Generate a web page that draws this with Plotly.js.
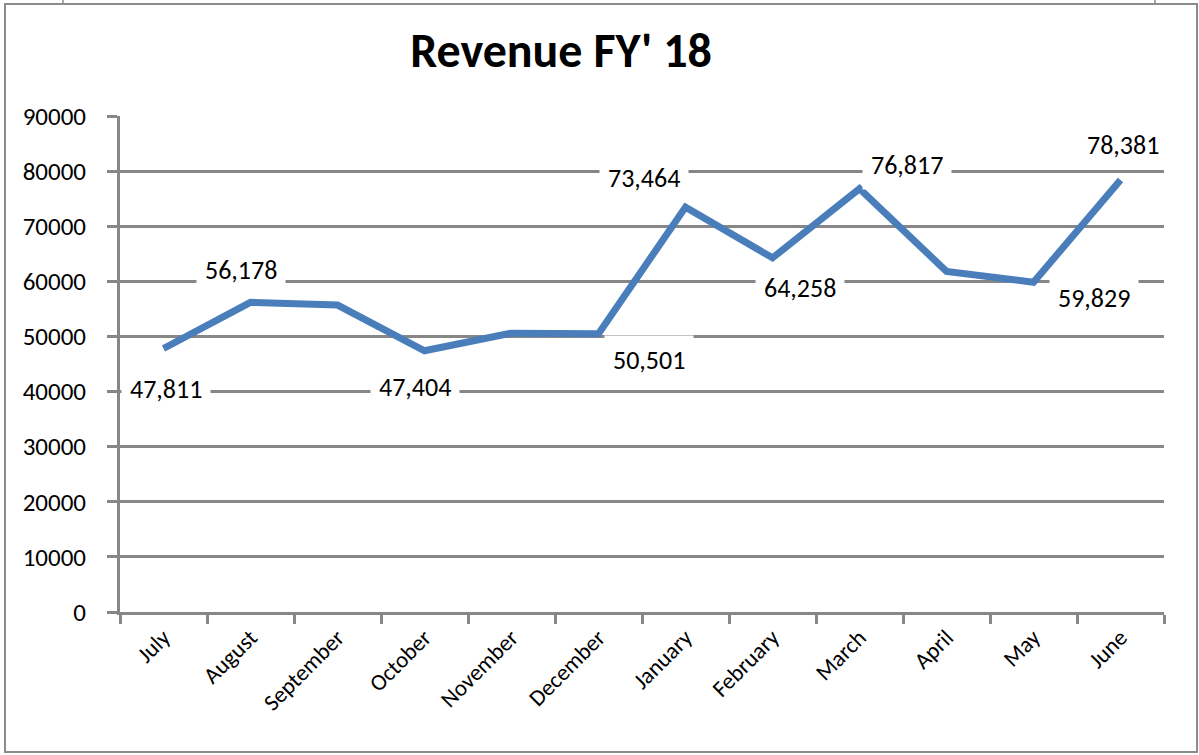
<!DOCTYPE html>
<html>
<head>
<meta charset="utf-8">
<script src="https://cdn.plot.ly/plotly-3.0.1.min.js"></script>
<style>
  html, body { margin: 0; padding: 0; background: #ffffff; }
  #chart { width: 1199px; height: 755px; }
</style>
</head>
<body>
<div id="chart"></div>
<script>
// ---- data ----
const months = ["July", "August", "September", "October", "November", "December",
                "January", "February", "March", "April", "May", "June"];
const revenue = [47811, 56178, 55700, 47404, 50600, 50501,
                 73464, 64258, 76817, 61800, 59829, 78381];
const chartTitle = "Revenue FY' 18";

// label placement (pixel shifts from the point); null = no label shown
const labelShift = [
  [2, -40], [-10, 32], null, [-10, -36], null, [50, -26],
  [-42, 29], [27, -30], [47, 24], null, [60, -16], [2, 35]
];

const gray = "#878787";
const font = "Carlito, Lato, sans-serif";

const annotations = [];
months.forEach((m, i) => {
  const s = labelShift[i];
  if (!s) return;
  annotations.push({
    x: m, y: revenue[i], xref: "x", yref: "y",
    text: revenue[i].toLocaleString("en-US"),
    showarrow: false, xanchor: "center", yanchor: "middle",
    xshift: s[0], yshift: s[1],
    bgcolor: "#ffffff", borderpad: 8,
    font: { family: font, size: 26, color: "#000000" }
  });
});

// paper coordinate helpers for the outer frame (plot area is 120..1164 x 116..612)
const px = v => (v - 120) / 1044;
const py = v => (612 - v) / 496;

const shapes = [
  { type: "rect", xref: "paper", yref: "paper", x0: px(5), x1: px(1197), y0: py(752), y1: py(4),
    line: { color: "#8c8c8c", width: 2 }, fillcolor: "rgba(0,0,0,0)", layer: "below" },
  { type: "line", xref: "paper", yref: "paper", x0: px(63), x1: px(63), y0: py(4), y1: py(0),
    line: { color: "#8c8c8c", width: 1.5 } },
  { type: "line", xref: "paper", yref: "paper", x0: px(1155), x1: px(1155), y0: py(4), y1: py(0),
    line: { color: "#8c8c8c", width: 1.5 } }
];

const trace = {
  type: "scatter", mode: "lines",
  x: months, y: revenue,
  line: { color: "#4a7ebb", width: 7, shape: "linear" },
  hoverinfo: "x+y"
};

const layout = {
  width: 1199, height: 755,
  margin: { l: 120, r: 35, t: 116, b: 143, pad: 0 },
  paper_bgcolor: "#ffffff", plot_bgcolor: "#ffffff",
  showlegend: false,
  title: {
    text: "<b>" + chartTitle + "</b>",
    font: { family: font, size: 48, color: "#000000" },
    xref: "container", yref: "container",
    x: 561 / 1199, xanchor: "center",
    y: 1 - 50 / 755, yanchor: "middle"
  },
  xaxis: {
    type: "category",
    range: [-0.5, 11.5],
    tickson: "boundaries",
    ticks: "outside", ticklen: 9, tickwidth: 3, tickcolor: gray,
    showline: true, linecolor: gray, linewidth: 3,
    showgrid: false, zeroline: false,
    tickangle: -45,
    tickfont: { family: font, size: 23, color: "#000000" },
    fixedrange: true
  },
  yaxis: {
    range: [0, 90000], dtick: 10000, tick0: 0,
    tickformat: "d",
    ticks: "outside", ticklen: 10, tickwidth: 3, tickcolor: gray,
    showline: true, linecolor: gray, linewidth: 3,
    showgrid: true, gridcolor: gray, gridwidth: 3,
    zeroline: false,
    ticklabelstandoff: 16,
    tickfont: { family: font, size: 25, color: "#000000" },
    fixedrange: true
  },
  annotations: annotations,
  shapes: shapes
};

Plotly.newPlot("chart", [trace], layout, { displayModeBar: false, staticPlot: true });
</script>
</body>
</html>
